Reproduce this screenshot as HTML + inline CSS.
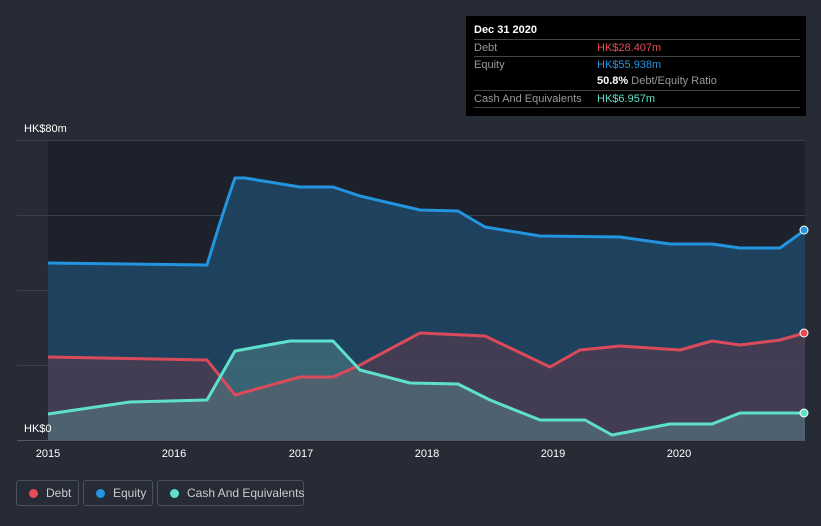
<!DOCTYPE html><html><head><style>
body{margin:0;background:#262b36;font-family:"Liberation Sans",sans-serif;}
.w{position:relative;width:821px;height:526px;overflow:hidden}
.tt{position:absolute;left:466px;top:16px;width:340px;height:100px;background:#000;color:#fff;font-size:11px}
.tt .r{position:absolute;left:8px;width:326px;border-top:1px solid #444;height:17px;line-height:17px}
.lab{color:#999}
.v{position:absolute;left:123px;top:0}
.lg{position:absolute;top:480px;height:26px;border:1px solid #4a505c;border-radius:3px;color:#ccc;font-size:12px;line-height:24px;box-sizing:border-box;white-space:nowrap}
.lg i{display:inline-block;width:9px;height:9px;border-radius:50%;margin:0 8px 0 12px;vertical-align:-1px}
</style></head><body><div class="w">
<svg width="821" height="526" style="position:absolute;left:0;top:0">
<rect x="48" y="140" width="757" height="300" fill="#1c212b"/>
<g stroke="#3a404b" stroke-width="1">
<line x1="17" y1="140.5" x2="805" y2="140.5"/><line x1="17" y1="215.5" x2="805" y2="215.5"/>
<line x1="17" y1="290.5" x2="805" y2="290.5"/><line x1="17" y1="365.5" x2="805" y2="365.5"/>
<line x1="17" y1="440.5" x2="805" y2="440.5" stroke="#555b66"/></g>
<path d="M48,263 L207,265 Q222,215 235,178 L245,178 L300,187 L333,187 L360,196 L420,210 L458,211 L485,227 L540,236 L620,237 L670,244 L712,244 L740,248 L780,248 L805,230 L805,440 L48,440Z" fill="#1f4866" opacity="0.85"/>
<path d="M48,357 L207,360 L235,395 L300,377 L333,377 L360,365 L420,333 L485,336 L550,367 L580,350 L620,346 L680,350 L712,341 L740,345 L780,340 L805,333 L805,440 L48,440Z" fill="#5a3a4c" opacity="0.6"/>
<path d="M48,414 L130,402 L207,400 L235,351 L290,341 L333,341 L360,370 L410,383 L458,384 L490,400 L540,420 L585,420 L612,435 L670,424 L712,424 L740,413 L805,413 L805,440 L48,440Z" fill="#5a8e90" opacity="0.45"/>
<g fill="none" stroke-width="3" stroke-linejoin="round">
<path d="M48,263 L207,265 Q222,215 235,178 L245,178 L300,187 L333,187 L360,196 L420,210 L458,211 L485,227 L540,236 L620,237 L670,244 L712,244 L740,248 L780,248 L805,230" stroke="#2394df"/>
<path d="M48,357 L207,360 L235,395 L300,377 L333,377 L360,365 L420,333 L485,336 L550,367 L580,350 L620,346 L680,350 L712,341 L740,345 L780,340 L805,333" stroke="#d94b5a"/>
<path d="M48,414 L130,402 L207,400 L235,351 L290,341 L333,341 L360,370 L410,383 L458,384 L490,400 L540,420 L585,420 L612,435 L670,424 L712,424 L740,413 L805,413" stroke="#5ee0cc"/>
</g>
<circle cx="804" cy="230" r="4" fill="#2394df" stroke="#fff"/>
<circle cx="804" cy="333" r="4" fill="#e84b56" stroke="#fff"/>
<circle cx="804" cy="413" r="4" fill="#5ee0cc" stroke="#fff"/>
<g fill="#fff" font-size="11" font-family="Liberation Sans">
<text x="24" y="132">HK$80m</text><text x="24" y="432">HK$0</text>
<g text-anchor="middle"><text x="48" y="457">2015</text><text x="174" y="457">2016</text><text x="301" y="457">2017</text><text x="427" y="457">2018</text><text x="553" y="457">2019</text><text x="679" y="457">2020</text></g></g>
</svg>
<div class="tt">
<div style="position:absolute;left:8px;top:8px;font-weight:bold">Dec 31 2020</div>
<div class="r" style="top:23px"><span class="lab">Debt</span><span class="v" style="color:#e84b56">HK$28.407m</span></div>
<div class="r" style="top:40px"><span class="lab">Equity</span><span class="v" style="color:#2394df">HK$55.938m</span></div>
<div class="r" style="top:57px;border:none"><span class="v"><b>50.8%</b> <span class="lab">Debt/Equity Ratio</span></span></div>
<div class="r" style="top:74px"><span class="lab">Cash And Equivalents</span><span class="v" style="color:#5ee0cc">HK$6.957m</span></div>
<div class="r" style="top:91px;height:0"></div>
</div>
<div class="lg" style="left:16px;width:63px"><i style="background:#e84b56"></i>Debt</div>
<div class="lg" style="left:83px;width:70px"><i style="background:#2394df"></i>Equity</div>
<div class="lg" style="left:157px;width:147px"><i style="background:#5ee0cc"></i>Cash And Equivalents</div>
</div></body></html>
